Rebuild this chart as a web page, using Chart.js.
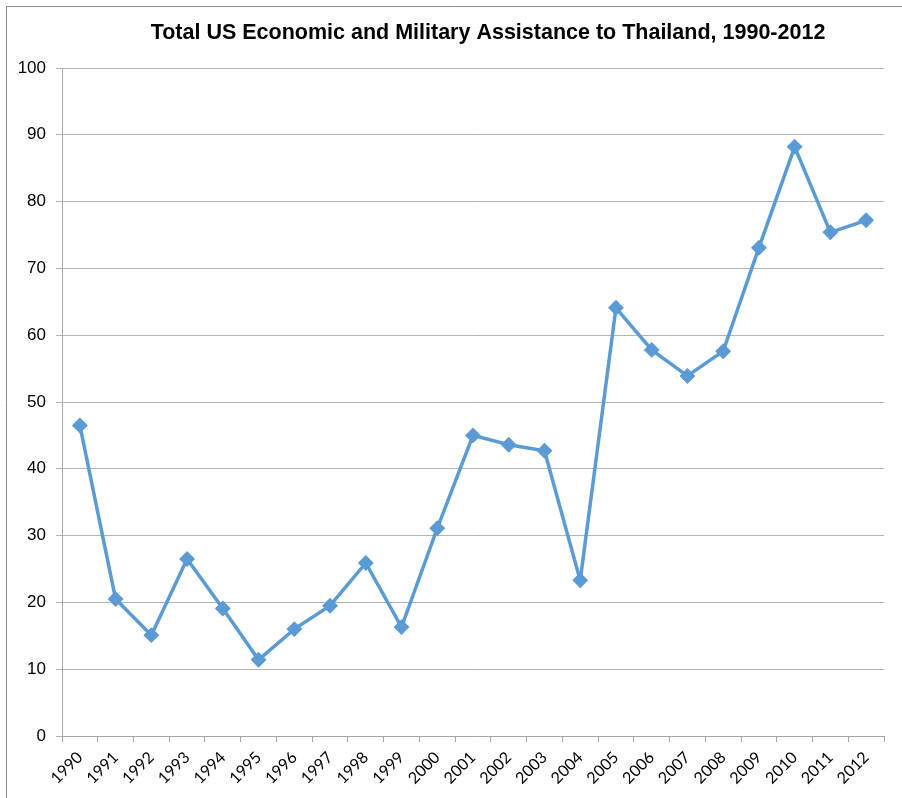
<!DOCTYPE html>
<html>
<head>
<meta charset="utf-8">
<script src="https://cdn.jsdelivr.net/npm/chart.js@4/dist/chart.umd.min.js"></script>
<style>
  html, body { margin: 0; padding: 0; background: #fff; }
  #wrap { width: 902px; height: 798px; position: relative; }
</style>
</head>
<body>
<div id="wrap"><canvas id="myChart"></canvas></div>
<script>
var titulo = 'Total US Economic and Military Assistance to Thailand, 1990-2012';
var anios = ['1990','1991','1992','1993','1994','1995','1996','1997','1998','1999','2000',
             '2001','2002','2003','2004','2005','2006','2007','2008','2009','2010','2011','2012'];
var asistencia = [46.5, 20.5, 15.1, 26.5, 19.1, 11.4, 16.0, 19.5, 25.9, 16.3, 31.1,
                  45.0, 43.6, 42.7, 23.3, 64.1, 57.8, 53.9, 57.6, 73.1, 88.2, 75.4, 77.2];
var ticks_y = [0, 10, 20, 30, 40, 50, 60, 70, 80, 90, 100];

// borde del marco y titulo
var marco = {
  id: 'marco',
  afterDraw: function (chart) {
    var ctx = chart.ctx;
    ctx.save();
    ctx.strokeStyle = '#8c8c8c';
    ctx.lineWidth = 1;
    ctx.beginPath();
    ctx.moveTo(6.5, 798);
    ctx.lineTo(6.5, 6.5);
    ctx.lineTo(902, 6.5);
    ctx.stroke();
    ctx.fillStyle = '#000';
    ctx.font = 'bold 21.5px "Liberation Sans", Arial, sans-serif';
    ctx.textAlign = 'center';
    ctx.textBaseline = 'middle';
    ctx.fillText(titulo, 488, 33);
    ctx.restore();
  }
};

var chart_line = new Chart(document.getElementById('myChart'), {
  type: 'line',
  data: {
    labels: anios,
    datasets: [{
      label: 'Total',
      data: asistencia,
      borderColor: '#5b9bd5',
      backgroundColor: '#5b9bd5',
      borderWidth: 3.5,
      pointStyle: 'rectRot',
      pointRadius: 5.5,
      pointHoverRadius: 5.5,
      tension: 0
    }]
  },
  options: {
    responsive: true,
    maintainAspectRatio: false,
    animation: false,
    layout: { padding: { top: 68, right: 18, left: 0, bottom: 0 } },
    plugins: {
      legend: { display: false },
      title: { display: false },
      tooltip: { enabled: false }
    },
    scales: {
      x: {
        offset: true,
        afterFit: function (s) { s.height = 62; },
        border: { color: '#a6a6a6', width: 1 },
        grid: { offset: true, drawOnChartArea: false, drawTicks: true, tickLength: 6, color: '#a6a6a6' },
        ticks: {
          maxRotation: 45, minRotation: 45, autoSkip: false, padding: 6,
          color: '#000',
          font: { family: 'Lato, "Liberation Sans", sans-serif', size: 16 }
        }
      },
      y: {
        min: 0, max: 100,
        afterFit: function (s) { s.width = 62; },
        afterBuildTicks: function (s) { s.ticks = ticks_y.map(function (v) { return { value: v }; }); },
        border: { color: '#a6a6a6', width: 1 },
        grid: { color: '#b3b3b3', lineWidth: 1, drawTicks: true, tickLength: 6 },
        ticks: {
          padding: 10, color: '#000',
          font: { family: '"Liberation Sans", Arial, sans-serif', size: 17 }
        }
      }
    }
  },
  plugins: [marco]
});
</script>
</body>
</html>
